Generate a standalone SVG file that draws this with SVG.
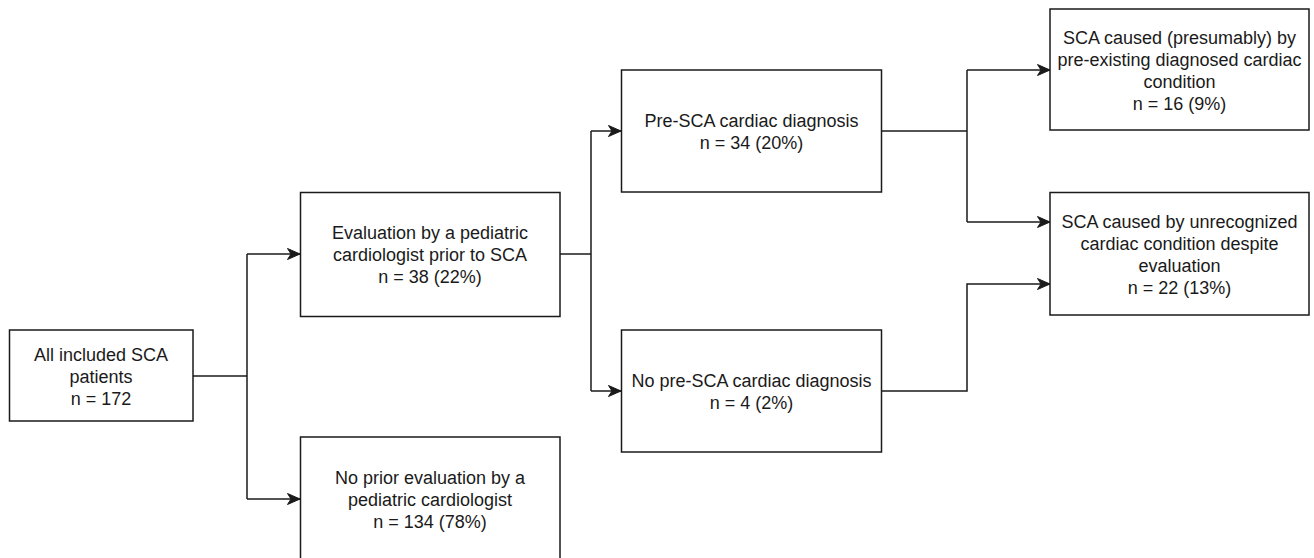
<svg xmlns="http://www.w3.org/2000/svg" width="1314" height="558" viewBox="0 0 1314 558">
  <style>
    .box { fill: #ffffff; stroke: #1a1a1a; stroke-width: 1.5; }
    .lbl { font-family: "Liberation Sans", Arial, sans-serif; font-size: 18px; fill: #1a1a1a; text-anchor: middle; }
    .edge { fill: none; stroke: #1a1a1a; stroke-width: 1.5; }
  </style>
  <defs>
    <marker id="arrow" markerUnits="userSpaceOnUse" markerWidth="16" markerHeight="14" viewBox="-14 -7 16 14" refX="0" refY="0" orient="auto">
      <path d="M -12.5 -5.5 L 0 0 L -12.5 5.5 L -9 0 Z" fill="#1a1a1a" stroke="#1a1a1a" stroke-width="1" stroke-linejoin="miter"/>
    </marker>
  </defs>
  <rect width="1314" height="558" fill="#ffffff"/>

  <g id="connectors">
    <path class="edge" d="M 193 376 H 247"/>
    <path class="edge" d="M 247 254 V 499"/>
    <path class="edge" d="M 247 254 H 300" marker-end="url(#arrow)"/>
    <path class="edge" d="M 247 499 H 300" marker-end="url(#arrow)"/>
    <path class="edge" d="M 560 254 H 591"/>
    <path class="edge" d="M 591 131 V 391"/>
    <path class="edge" d="M 591 131 H 621" marker-end="url(#arrow)"/>
    <path class="edge" d="M 591 391 H 621" marker-end="url(#arrow)"/>
    <path class="edge" d="M 882 131 H 967"/>
    <path class="edge" d="M 967 70 V 222"/>
    <path class="edge" d="M 967 70 H 1050" marker-end="url(#arrow)"/>
    <path class="edge" d="M 967 222 H 1050" marker-end="url(#arrow)"/>
    <path class="edge" d="M 882 391 H 967 V 284 H 1050" marker-end="url(#arrow)"/>
  </g>

  <g id="node-all">
    <rect class="box" x="9.5" y="330" width="183.5" height="91"/>
    <text class="lbl" x="101" y="360.5">All included SCA</text>
    <text class="lbl" x="101" y="382.5">patients</text>
    <text class="lbl" x="101" y="404.5">n = 172</text>
  </g>

  <g id="node-eval">
    <rect class="box" x="300.5" y="192.5" width="259.5" height="124"/>
    <text class="lbl" x="430" y="238.5">Evaluation by a pediatric</text>
    <text class="lbl" x="430" y="260.5">cardiologist prior to SCA</text>
    <text class="lbl" x="430" y="282.5">n = 38 (22%)</text>
  </g>

  <g id="node-noeval">
    <rect class="box" x="300.5" y="437" width="259.5" height="124"/>
    <text class="lbl" x="430" y="483.5">No prior evaluation by a</text>
    <text class="lbl" x="430" y="505.5">pediatric cardiologist</text>
    <text class="lbl" x="430" y="527.5">n = 134 (78%)</text>
  </g>

  <g id="node-prediag">
    <rect class="box" x="621.5" y="70" width="260" height="122"/>
    <text class="lbl" x="751.5" y="126.5">Pre-SCA cardiac diagnosis</text>
    <text class="lbl" x="751.5" y="148.5">n = 34 (20%)</text>
  </g>

  <g id="node-nodiag">
    <rect class="box" x="621.5" y="330" width="260" height="122"/>
    <text class="lbl" x="751.5" y="386.5">No pre-SCA cardiac diagnosis</text>
    <text class="lbl" x="751.5" y="408.5">n = 4 (2%)</text>
  </g>

  <g id="node-diagnosed">
    <rect class="box" x="1050" y="9" width="259" height="121"/>
    <text class="lbl" x="1179.5" y="43.5">SCA caused (presumably) by</text>
    <text class="lbl" x="1179.5" y="65.5">pre-existing diagnosed cardiac</text>
    <text class="lbl" x="1179.5" y="87.5">condition</text>
    <text class="lbl" x="1179.5" y="109.5">n = 16 (9%)</text>
  </g>

  <g id="node-unrecognized">
    <rect class="box" x="1050" y="192.5" width="259" height="122.5"/>
    <text class="lbl" x="1179.5" y="227.5">SCA caused by unrecognized</text>
    <text class="lbl" x="1179.5" y="249.5">cardiac condition despite</text>
    <text class="lbl" x="1179.5" y="271.5">evaluation</text>
    <text class="lbl" x="1179.5" y="293.5">n = 22 (13%)</text>
  </g>
</svg>
